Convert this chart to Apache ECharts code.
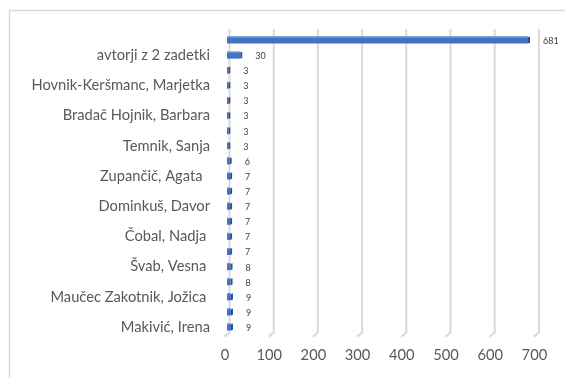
<!DOCTYPE html>
<html>
<head>
<meta charset="utf-8">
<script src="https://cdn.jsdelivr.net/npm/echarts@6/dist/echarts.min.js"></script>
<style>
  html, body { margin: 0; padding: 0; background: #ffffff; }
  #chart { width: 565px; height: 378px; }
</style>
</head>
<body>
<div id="chart"></div>
<script>
// Authors listed bottom-to-top; every other row carries a visible label.
var categories = [
  'Makivić, Irena', '', 'Maučec Zakotnik, Jožica ', '', 'Švab, Vesna ', '',
  'Čobal, Nadja ', '', 'Dominkuš, Davor', '', 'Zupančič, Agata  ', '',
  'Temnik, Sanja', '', 'Bradač Hojnik, Barbara', '', 'Hovnik-Keršmanc, Marjetka', '',
  'avtorji z 2 zadetki', ''
];
var hits = [9, 9, 9, 8, 8, 7, 7, 7, 7, 7, 7, 6, 3, 3, 3, 3, 3, 3, 30, 681];
var xTicks = [0, 100, 200, 300, 400, 500, 600, 700];

var FONT = 'Lato, "Open Sans", sans-serif';
var chart = echarts.init(document.getElementById('chart'), null, { renderer: 'canvas' });

chart.setOption({
  animation: false,
  backgroundColor: '#ffffff',
  graphic: [{
    type: 'rect',
    shape: { x: 9.5, y: 10.5, width: 600, height: 400 },
    style: { fill: 'none', stroke: '#d9d9d9', lineWidth: 1.5 },
    z: 0
  }],
  grid: { left: 227, right: 28.6, top: 32.5, bottom: 43.4 },
  xAxis: {
    type: 'value', min: 0, max: 700, interval: 100,
    axisLine: { show: false }, axisTick: { show: false }, splitLine: { show: false },
    axisLabel: { color: '#595959', fontSize: 14.7, fontFamily: FONT, margin: 13, padding: [0, 4, 0, 0] }
  },
  yAxis: {
    type: 'category', data: categories,
    axisLine: { show: false }, axisTick: { show: false },
    axisLabel: { color: '#595959', fontSize: 14.7, fontFamily: FONT, margin: 17, interval: 0 }
  },
  series: [
    {
      // back-wall gridlines with a short floor segment at the base
      type: 'custom',
      z: 1,
      silent: true,
      data: xTicks.map(function (t) { return [t, 0]; }),
      renderItem: function (params, api) {
        var cs = params.coordSys;
        var x = api.coord([api.value(0), 0])[0];
        var top = cs.y - 3.5;
        var bot = cs.y + cs.height - 2;
        return {
          type: 'polyline',
          shape: { points: [[x + 2.5, top], [x + 2.5, bot], [x - 2.5, bot + 4]] },
          style: { stroke: '#d9d9d9', lineWidth: 2, fill: null }
        };
      }
    },
    {
      type: 'custom',
      z: 2,
      data: hits.map(function (v, i) { return [v, i]; }),
      renderItem: function (params, api) {
        var v = api.value(0);
        var i = api.value(1);
        var p0 = api.coord([0, i]);
        var p1 = api.coord([v, i]);
        var h = 7;
        var yc = p0[1];
        var yt = yc - h / 2;
        return {
          type: 'group',
          children: [
            {
              type: 'rect',
              shape: { x: p0[0], y: yt, width: p1[0] - p0[0], height: h },
              style: { fill: '#4472c4' }
            },
            {
              type: 'rect',
              shape: { x: p0[0], y: yt, width: p1[0] - p0[0], height: 1.2 },
              style: { fill: '#6f93d3' }
            },
            {
              type: 'polygon',
              shape: { points: [[p1[0], yt + 0.8], [p1[0] + 2, yt], [p1[0] + 2, yt + h - 0.8], [p1[0], yt + h]] },
              style: { fill: '#2f528f' }
            },
            {
              type: 'text',
              style: {
                x: p1[0] + 15, y: yc + 1,
                text: String(v),
                fill: '#404040', fontSize: 9, fontFamily: FONT,
                align: 'left', verticalAlign: 'middle'
              }
            }
          ]
        };
      }
    }
  ]
});
</script>
</body>
</html>
